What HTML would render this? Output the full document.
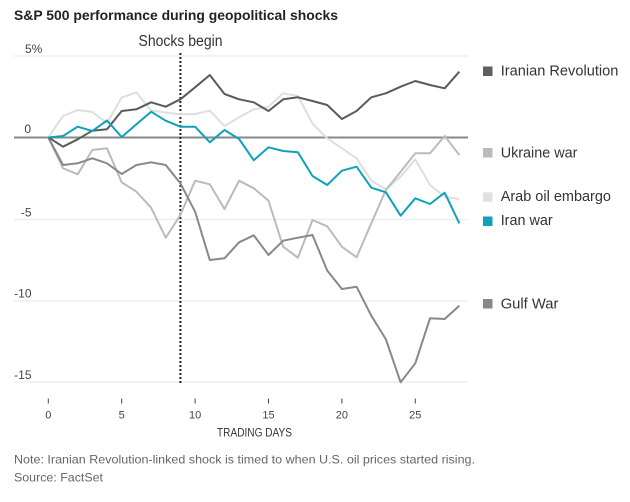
<!DOCTYPE html>
<html><head><meta charset="utf-8"><style>
html,body{margin:0;padding:0;background:#fff;}
svg{display:block;}
text{font-family:"Liberation Sans",sans-serif;}
</style></head><body>
<svg width="630" height="502" viewBox="0 0 630 502" xmlns="http://www.w3.org/2000/svg">
<text x="14" y="20" font-size="14" font-weight="bold" fill="#222" textLength="324" lengthAdjust="spacingAndGlyphs">S&amp;P 500 performance during geopolitical shocks</text>
<text x="138.5" y="46" font-size="15.5" fill="#333" textLength="84" lengthAdjust="spacingAndGlyphs">Shocks begin</text>
<!-- grid -->
<g stroke="#eeeeee" stroke-width="1.5">
<line x1="14" y1="56" x2="468" y2="56"/>
<line x1="14" y1="219.5" x2="468" y2="219.5"/>
<line x1="14" y1="301" x2="468" y2="301"/>
<line x1="14" y1="382" x2="468" y2="382"/>
</g>
<line x1="14" y1="137.5" x2="468" y2="137.5" stroke="#888" stroke-width="2"/>
<!-- y labels -->
<g font-size="12" fill="#444">
<text x="25" y="53">5%</text>
<text x="31" y="133" text-anchor="end">0</text>
<text x="31.5" y="216.5" text-anchor="end">-5</text>
<text x="31.5" y="297.5" text-anchor="end">-10</text>
<text x="31.5" y="379" text-anchor="end">-15</text>
</g>
<!-- dotted line -->
<line x1="180.4" y1="53" x2="180.4" y2="383" stroke="#222" stroke-width="2" stroke-dasharray="2 2"/>
<!-- series -->
<g fill="none" stroke-width="2" stroke-linejoin="round">
<polyline stroke="#dedede" points="48.3,137.5 63,116 77.7,110 92.3,112 107,123 121.7,97.5 136.4,92.5 151.1,110.5 165.7,112.5 180.4,114.2 195.1,114 209.8,110.7 224.5,126 239.1,117.3 253.8,109.3 268.5,106.7 283.2,93.3 297.9,96 312.5,123.5 327.2,138.3 341.9,148.3 356.6,158.3 371.3,180.7 385.9,189.3 400.6,176.7 415.3,159.3 430,185 444.7,196.7 459.3,199"/>
<polyline stroke="#bbbbbb" points="48.3,137.5 63,168.3 77.7,174.3 92.3,150 107,148.3 121.7,182.3 136.4,191.7 151.1,207.7 165.7,237.7 180.4,215 195.1,180.7 209.8,184.3 224.5,209 239.1,180.7 253.8,188.3 268.5,200.7 283.2,246.7 297.9,257.7 312.5,220 327.2,226.3 341.9,246.7 356.6,257.3 371.3,223.3 385.9,190 400.6,171.7 415.3,153.3 430,153.3 444.7,136 459.3,155"/>
<polyline stroke="#888888" points="48.3,137.5 63,165 77.7,163.3 92.3,158.3 107,163.3 121.7,174 136.4,165 151.1,162.3 165.7,165 180.4,183.3 195.1,211.7 209.8,260 224.5,258.3 239.1,242.3 253.8,235.3 268.5,255 283.2,240.7 297.9,237.7 312.5,235 327.2,270.5 341.9,289 356.6,286.7 371.3,315.7 385.9,339.3 400.6,382.3 415.3,363.3 430,318.3 444.7,319 459.3,305.7"/>
<polyline stroke="#5a5a5a" points="48.3,137.3 63,146.7 77.7,139.3 92.3,130.7 107,129.3 121.7,111 136.4,109.3 151.1,102.3 165.7,106.7 180.4,99.3 195.1,87.3 209.8,75 224.5,94 239.1,99.3 253.8,102.3 268.5,111 283.2,99.3 297.9,97.3 312.5,101 327.2,105 341.9,119 356.6,111 371.3,97.3 385.9,93.3 400.6,86.7 415.3,81 430,85 444.7,88.3 459.3,71.7"/>
<polyline stroke="#0ea2b8" points="48.3,137.5 63,136 77.7,126.7 92.3,131 107,120.5 121.7,137 136.4,124.3 151.1,111.7 165.7,120.7 180.4,126.7 195.1,126.7 209.8,142.3 224.5,130 239.1,139 253.8,160.3 268.5,147.3 283.2,151 297.9,152.3 312.5,176 327.2,185 341.9,170.7 356.6,166.7 371.3,187.7 385.9,192.3 400.6,215.7 415.3,198.3 430,204 444.7,192.7 459.3,223.3"/>
</g>
<!-- legend -->
<rect x="483" y="66.5" width="9.5" height="9.5" fill="#5f5f5f"/>
<rect x="483" y="148" width="9.5" height="9.5" fill="#bbbbbb"/>
<rect x="483" y="192.3" width="9.5" height="9.5" fill="#e0e0e0"/>
<rect x="483" y="216.5" width="9.5" height="9.5" fill="#0ea2b8"/>
<rect x="483" y="299" width="9.5" height="9.5" fill="#888888"/>
<g font-size="15" fill="#333">
<text x="500.7" y="75.5" textLength="117.7" lengthAdjust="spacingAndGlyphs">Iranian Revolution</text>
<text x="500.7" y="157.3" textLength="76.7" lengthAdjust="spacingAndGlyphs">Ukraine war</text>
<text x="500.7" y="201" textLength="110.3" lengthAdjust="spacingAndGlyphs">Arab oil embargo</text>
<text x="500.7" y="225" textLength="52" lengthAdjust="spacingAndGlyphs">Iran war</text>
<text x="500.7" y="308.3" textLength="57.7" lengthAdjust="spacingAndGlyphs">Gulf War</text>
</g>
<!-- x axis -->
<g stroke="#444" stroke-width="1">
<line x1="48.3" y1="398.5" x2="48.3" y2="403.5"/>
<line x1="121.7" y1="398.5" x2="121.7" y2="403.5"/>
<line x1="195.1" y1="398.5" x2="195.1" y2="403.5"/>
<line x1="268.5" y1="398.5" x2="268.5" y2="403.5"/>
<line x1="341.9" y1="398.5" x2="341.9" y2="403.5"/>
<line x1="415.3" y1="398.5" x2="415.3" y2="403.5"/>
</g>
<g font-size="11" fill="#444" text-anchor="middle">
<text x="48.3" y="418.3">0</text>
<text x="121.7" y="418.3">5</text>
<text x="195.1" y="418.3">10</text>
<text x="268.5" y="418.3">15</text>
<text x="341.9" y="418.3">20</text>
<text x="415.3" y="418.3">25</text>
</g>
<text x="217" y="436.7" font-size="11.5" fill="#333" textLength="75" lengthAdjust="spacingAndGlyphs">TRADING DAYS</text>
<text x="14" y="463.5" font-size="12" fill="#666" textLength="461" lengthAdjust="spacingAndGlyphs">Note: Iranian Revolution-linked shock is timed to when U.S. oil prices started rising.</text>
<text x="14" y="481.7" font-size="12" fill="#666" textLength="89" lengthAdjust="spacingAndGlyphs">Source: FactSet</text>
</svg>
</body></html>
